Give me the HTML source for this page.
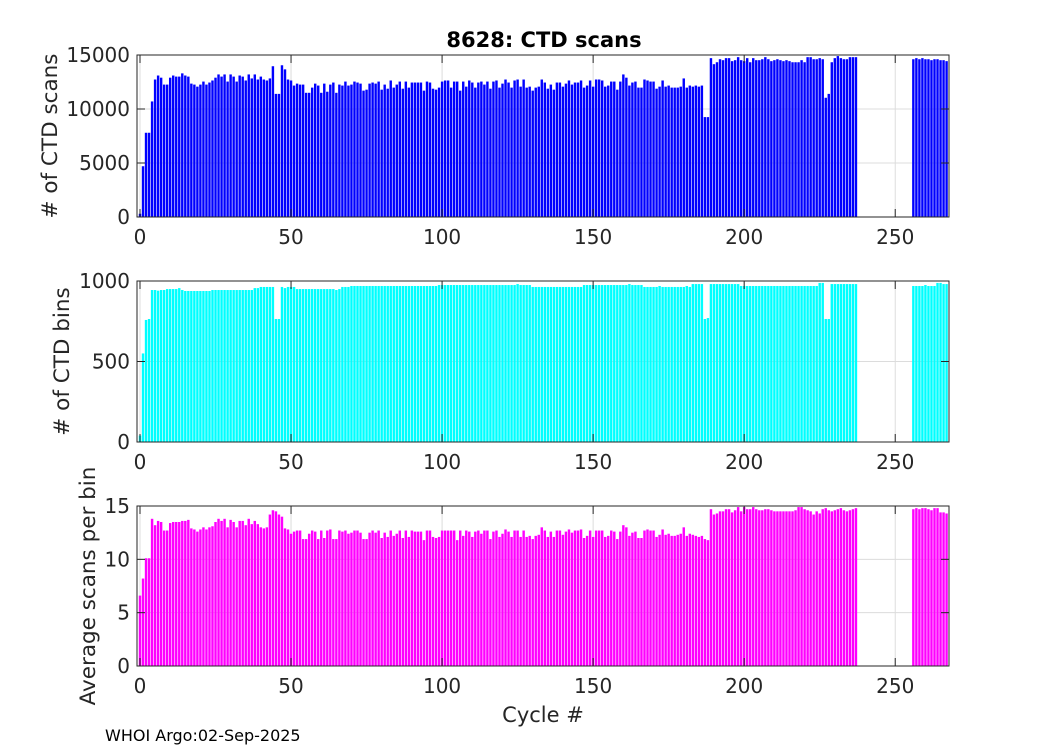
<!DOCTYPE html>
<html><head><meta charset="utf-8"><style>
html,body{margin:0;padding:0;background:#fff;}
svg{display:block;font-family:"DejaVu Sans","Liberation Sans",sans-serif;}
</style></head><body>
<svg id="chart" width="1050" height="750" viewBox="0 0 1050 750" xmlns="http://www.w3.org/2000/svg">
<rect width="1050" height="750" fill="#fff"/>
<text x="544" y="47" text-anchor="middle" font-size="21" font-weight="bold" fill="#000">8628: CTD scans</text>
<text x="543" y="722" text-anchor="middle" font-size="21" fill="#262626">Cycle #</text>
<text x="105" y="741" font-size="16" fill="#000">WHOI Argo:02-Sep-2025</text>
</svg>
<script>
const xTicks = [0, 50, 100, 150, 200, 250];
const scans = [300,4700,7800,7800,10700,
12730,13100,12900,12260,12260,12900,13100,13000,13000,13300,
13100,13000,12350,12260,12070,12260,12540,12260,12450,12640,
12900,13200,13000,13200,12540,13200,13000,12540,13100,13000,
12640,13200,12830,13200,12730,13000,12730,12640,12830,13960,
11400,11400,14050,13670,12730,12640,12170,12350,12260,12260,
11500,11500,11980,12350,12170,11500,12350,11600,12260,12450,
11500,12260,12170,12540,12170,12260,12540,12450,12350,11700,
11790,12350,12450,12350,12540,11790,12260,11880,12640,11980,
12260,12540,11880,12540,11980,12450,
12450,12450,12450,11700,12540,12450,11880,11790,11980,12540,
12640,12640,11980,12540,12540,11700,12540,12070,12640,12450,
11980,12450,12540,12260,12540,11880,12540,12640,11980,12350,
12730,12450,11980,12640,12730,12070,12730,11980,12070,11700,
11980,12070,12730,12450,11880,12260,11790,12450,12450,12070,
12350,12640,12260,12450,12450,12640,11980,12170,12640,12070,
12730,12730,12640,12070,12170,12540,12540,11790,12540,13200,
12900,12170,12450,12540,11980,11980,12730,12640,12540,12540,
11880,12070,12640,12070,12170,11980,11980,11980,12070,
12830,11980,12170,12070,12170,12070,12170,9250,9250,14710,
14150,14330,14610,14520,14710,14710,14430,14520,14800,14520,
14430,14710,14330,14710,14520,14520,14610,14800,14610,14430,
14520,14610,14520,14430,14520,14430,14330,14330,14330,14520,
14330,14800,14800,14610,14610,14710,14610,11040,11400,14330,
14710,14900,14710,14610,14610,14800,14800,14800,
null,null,null,null,null,null,null,null,null,null,null,null,null,null,null,null,null,null,
14610,14710,14610,14710,14610,14610,14520,14610,14610,14520,14520,14430];
const bins = [40,550,758,764,944,944,940,944,944,950,
950,950,950,956,944,938,938,938,938,938,
938,938,938,938,944,944,944,944,944,944,
944,944,944,944,944,944,944,944,956,956,
963,963,963,963,963,764,764,963,956,963,
963,963,950,950,950,950,950,950,950,950,
950,950,950,950,950,944,950,963,963,963,
969,969,969,969,969,969,969,969,969,969,
969,969,969,969,969,969,969,969,969,969,
969,969,969,969,969,969,969,969,969,975,
975,975,975,975,975,975,975,975,975,975,
975,975,975,975,975,975,975,975,975,975,
975,975,975,975,975,981,975,975,975,975,
963,963,963,963,963,963,963,963,963,963,
963,963,963,963,963,963,963,975,975,975,
975,975,975,975,975,975,975,975,975,975,
975,975,981,975,975,975,975,963,963,963,
963,963,969,963,963,963,963,963,963,963,
963,969,963,981,981,981,981,764,770,981,
981,981,981,981,981,981,981,981,981,969,
969,969,969,969,969,969,969,969,969,969,
969,969,969,969,969,969,969,969,969,969,
969,969,969,969,969,988,988,764,764,981,
981,981,981,981,981,981,981,981,
null,null,null,null,null,null,null,null,null,null,null,null,null,null,null,null,null,null,
969,969,969,969,975,969,969,969,988,988,981,981];
const avgScans = [6.6,8.2,10.1,10.1,13.8,13.2,13.6,13.5,12.7,12.7,
13.4,13.5,13.5,13.5,13.6,13.6,13.7,12.9,12.8,12.6,
12.8,13.0,12.8,13.0,13.1,13.5,13.8,13.6,13.8,13.0,
13.7,13.5,13.0,13.6,13.6,13.2,13.8,13.3,13.6,13.3,
13.0,12.9,13.0,14.2,14.6,14.5,14.2,14.0,12.9,12.8,
12.4,12.6,12.7,12.7,11.9,11.9,12.4,12.7,12.6,11.9,
12.7,12.0,12.7,12.8,11.9,11.9,12.7,12.6,12.7,12.4,
12.5,12.7,12.7,12.5,11.9,11.9,12.5,12.7,12.5,12.7,
12.0,12.5,12.1,12.7,12.2,12.4,12.7,12.0,12.7,12.1,
12.7,12.6,12.6,12.6,11.8,12.7,12.7,12.1,12.0,12.1,
12.7,12.7,12.7,12.7,12.7,11.8,12.7,12.2,12.7,12.6,
12.1,12.6,12.7,12.4,12.7,12.7,11.9,12.6,12.7,12.1,
12.4,12.8,12.6,12.1,12.7,12.7,12.1,12.7,12.1,12.2,
11.9,12.2,12.3,13.0,12.7,12.1,12.6,12.1,12.7,12.7,
12.3,12.6,12.8,12.5,12.7,12.7,12.8,12.0,12.2,12.7,
12.1,12.7,12.7,12.7,12.1,12.2,12.7,12.6,11.9,12.6,
13.2,13.0,12.2,12.5,12.6,12.0,12.0,12.7,12.8,12.7,
12.7,12.1,12.3,12.8,12.3,12.4,12.2,12.2,12.3,12.4,
13.0,12.2,12.4,12.3,12.2,12.1,12.2,11.9,11.8,14.7,
14.2,14.3,14.5,14.5,14.7,14.7,14.4,14.6,14.9,14.5,
14.9,14.7,14.7,14.9,14.7,14.6,14.6,14.7,14.7,14.6,
14.5,14.5,14.5,14.5,14.5,14.5,14.5,14.6,14.9,14.9,
14.7,14.6,14.5,14.2,14.5,14.3,14.7,14.8,14.6,14.5,
14.6,14.7,14.8,14.6,14.5,14.6,14.7,14.8,
null,null,null,null,null,null,null,null,null,null,null,null,null,null,null,null,null,null,
14.7,14.8,14.7,14.8,14.8,14.7,14.6,14.8,14.8,14.4,14.4,14.3];
const scanTicks = [0, 5000, 10000, 15000];
const binTicks = [0, 500, 1000];
const avgTicks = [0, 5, 10, 15];

const NS = 'http://www.w3.org/2000/svg';
const svg = document.getElementById('chart');
const X0 = 137, X1 = 949, XMIN = -0.99, XMAX = 267.8;
function xs(v){ return X0 + (v - XMIN) / (XMAX - XMIN) * (X1 - X0); }
function mk(tag, attrs){ const e = document.createElementNS(NS, tag); for (const k in attrs) e.setAttribute(k, attrs[k]); return e; }

function panel(key, top, bottom, ymax, values, ticks, color, title, titleX){
  const g = mk('g', {});
  
  
  svg.appendChild(g);
  const ys = v => bottom - v / ymax * (bottom - top);
  xTicks.forEach(t => {
    const l = mk('line', {x1: xs(t), x2: xs(t), y1: top, y2: bottom, stroke: '#dcdcdc', 'stroke-width': 1});
    
    
    g.appendChild(l);
  });
  ticks.forEach(t => {
    const l = mk('line', {x1: X0, x2: X1, y1: ys(t), y2: ys(t), stroke: '#dcdcdc', 'stroke-width': 1});
    
    
    g.appendChild(l);
  });
  const bw = xs(0.8) - xs(0);
  values.forEach((v, i) => {
    if (v === null) return;
    const r = mk('rect', {x: xs(i - 0.4), y: ys(v), width: bw, height: bottom - ys(v), fill: color});
    
    
    g.appendChild(r);
  });
  const box = mk('rect', {x: X0, y: top, width: X1 - X0, height: bottom - top, fill: 'none', stroke: '#262626', 'stroke-width': 1});
  
  
  g.appendChild(box);
  xTicks.forEach(t => {
    const tk = mk('line', {x1: xs(t), x2: xs(t), y1: bottom, y2: bottom - 8, stroke: '#262626'});
    
    
    g.appendChild(tk);
    const tk2 = mk('line', {x1: xs(t), x2: xs(t), y1: top, y2: top + 8, stroke: '#262626'});
    
    
    g.appendChild(tk2);
    const tx = mk('text', {x: xs(t), y: bottom + 27, 'text-anchor': 'middle', 'font-size': 20, fill: '#262626'});
    tx.textContent = String(t);
    
    
    g.appendChild(tx);
  });
  ticks.forEach(t => {
    const tk = mk('line', {x1: X0, x2: X0 + 8, y1: ys(t), y2: ys(t), stroke: '#262626'});
    
    
    g.appendChild(tk);
    const tk2 = mk('line', {x1: X1, x2: X1 - 8, y1: ys(t), y2: ys(t), stroke: '#262626'});
    
    
    g.appendChild(tk2);
    const tx = mk('text', {x: X0 - 7, y: ys(t) + 7, 'text-anchor': 'end', 'font-size': 20, fill: '#262626'});
    tx.textContent = String(t);
    
    
    g.appendChild(tx);
  });
  const cy = (top + bottom) / 2;
  const yt = mk('text', {x: titleX, y: cy, 'text-anchor': 'middle', 'font-size': 21.5, fill: '#262626', transform: 'rotate(-90 ' + titleX + ' ' + cy + ')'});
  yt.textContent = title;
  
  
  g.appendChild(yt);
}
panel('scans', 55, 217, 15000, scans, scanTicks, '#0000ff', '# of CTD scans', 57);
panel('bins', 281, 442, 1000, bins, binTicks, '#00ffff', '# of CTD bins', 69);
panel('avg', 506, 666, 15, avgScans, avgTicks, '#ff00ff', 'Average scans per bin', 95);
</script>
</body></html>
